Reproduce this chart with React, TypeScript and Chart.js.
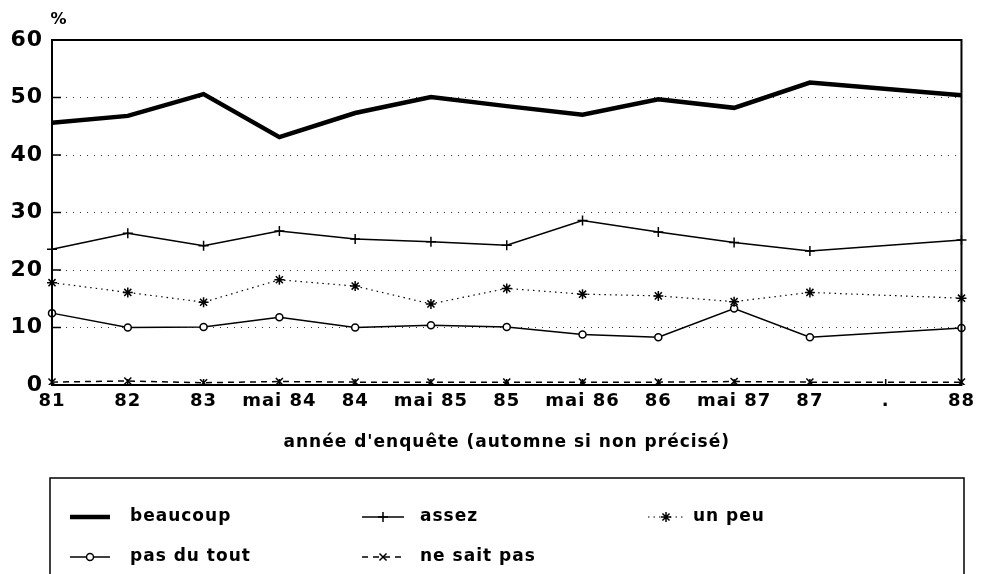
import React, { useEffect, useRef } from "react";
import { Chart, registerables } from "chart.js";

Chart.register(...registerables);

const categories = ["81", "82", "83", "mai 84", "84", "mai 85", "85", "mai 86", "86", "mai 87", "87", ".", "88"];
const beaucoup = [45.6, 46.8, 50.6, 43.1, 47.3, 50.1, 48.5, 47.0, 49.7, 48.2, 52.6, null, 50.4];
const assez = [23.6, 26.4, 24.2, 26.8, 25.4, 24.9, 24.3, 28.6, 26.6, 24.8, 23.3, null, 25.2];
const unPeu = [17.8, 16.1, 14.4, 18.3, 17.2, 14.1, 16.8, 15.8, 15.5, 14.5, 16.1, null, 15.1];
const pasDuTout = [12.5, 10.0, 10.1, 11.8, 10.0, 10.4, 10.1, 8.8, 8.3, 13.3, 8.3, null, 9.9];
const neSaitPas = [0.5, 0.7, 0.4, 0.6, 0.5, 0.5, 0.5, 0.5, 0.5, 0.6, 0.5, null, 0.5];
const yTicks = [0, 10, 20, 30, 40, 50, 60];
const xTitle = "année d'enquête (automne si non précisé)";
const yUnit = "%";
const seriesNames = ["beaucoup", "assez", "un peu", "pas du tout", "ne sait pas"];

const FONT = "'DejaVu Sans', 'Liberation Sans', sans-serif";
const SPACING = "1px";

function drawMarker(ctx: CanvasRenderingContext2D, style: string, x: number, y: number, r: number) {
  ctx.beginPath();
  if (style === "cross" || style === "star") {
    ctx.moveTo(x - r, y); ctx.lineTo(x + r, y);
    ctx.moveTo(x, y - r); ctx.lineTo(x, y + r);
  }
  if (style === "crossRot" || style === "star") {
    const d = r * 0.707;
    ctx.moveTo(x - d, y - d); ctx.lineTo(x + d, y + d);
    ctx.moveTo(x - d, y + d); ctx.lineTo(x + d, y - d);
  }
  ctx.stroke();
  if (style === "circle") {
    ctx.beginPath();
    ctx.arc(x, y, r, 0, Math.PI * 2);
    ctx.fillStyle = "#fff";
    ctx.fill();
    ctx.stroke();
  }
}

const framePlugin = {
  id: "frame",
  beforeUpdate(chart: any) {
    (chart.ctx as any).letterSpacing = SPACING;
  },
  beforeLayout(chart: any) {
    (chart.ctx as any).letterSpacing = SPACING;
  },
  beforeDraw(chart: any) {
    const { ctx, width, height } = chart;
    (ctx as any).letterSpacing = SPACING;
    ctx.save();
    ctx.fillStyle = "#fff";
    ctx.fillRect(0, 0, width, height);
    ctx.restore();
  },
  afterDraw(chart: any) {
    const { ctx, chartArea: a, scales } = chart;
    ctx.save();
    ctx.strokeStyle = "#000";
    ctx.setLineDash([]);
    ctx.lineWidth = 2;
    ctx.strokeRect(a.left, a.top, a.right - a.left, a.bottom - a.top);
    ctx.lineWidth = 1.5;
    yTicks.forEach((v) => {
      if (v === 0 || v === 60) return;
      const y = scales.y.getPixelForValue(v);
      ctx.beginPath();
      ctx.moveTo(a.left, y);
      ctx.lineTo(a.left + 9, y);
      ctx.stroke();
    });
    categories.forEach((_, i) => {
      const x = scales.x.getPixelForValue(i);
      ctx.beginPath();
      ctx.moveTo(x, a.bottom);
      ctx.lineTo(x, a.bottom - 6);
      ctx.stroke();
    });
    // unit label
    ctx.fillStyle = "#000";
    ctx.font = `bold 16px ${FONT}`;
    ctx.textAlign = "center";
    ctx.textBaseline = "middle";
    ctx.fillText(yUnit, a.left + 7, a.top - 20);

    // legend
    const boxL = 50, boxR = 964, boxT = 478;
    ctx.lineWidth = 1.5;
    ctx.beginPath();
    ctx.moveTo(boxL, 600);
    ctx.lineTo(boxL, boxT);
    ctx.lineTo(boxR, boxT);
    ctx.lineTo(boxR, 600);
    ctx.stroke();
    const pos = [
      { x1: 70, x2: 110, tx: 130, y: 517 },
      { x1: 362, x2: 404, tx: 420, y: 517 },
      { x1: 648, x2: 684, tx: 693, y: 517 },
      { x1: 70, x2: 110, tx: 130, y: 557 },
      { x1: 362, x2: 404, tx: 420, y: 557 },
    ];
    chart.data.datasets.forEach((ds: any, i: number) => {
      const p = pos[i];
      ctx.save();
      ctx.strokeStyle = "#000";
      ctx.lineWidth = ds.borderWidth;
      ctx.setLineDash(ds.borderDash || []);
      ctx.beginPath();
      ctx.moveTo(p.x1, p.y);
      ctx.lineTo(p.x2, p.y);
      ctx.stroke();
      ctx.setLineDash([]);
      ctx.lineWidth = 1.5;
      if (ds.pointRadius > 0) drawMarker(ctx, ds.pointStyle, (p.x1 + p.x2) / 2, p.y, ds.pointRadius);
      ctx.restore();
      ctx.fillStyle = "#000";
      ctx.font = `bold 17px ${FONT}`;
      ctx.textAlign = "left";
      ctx.textBaseline = "middle";
      ctx.fillText(ds.label, p.tx, p.y);
    });
    ctx.restore();
  },
};

export default function App() {
  const ref = useRef<HTMLCanvasElement>(null);
  useEffect(() => {
    document.body.style.margin = "0";
    const chart = new Chart(ref.current!, {
      type: "line",
      data: {
        labels: categories,
        datasets: [
          { label: seriesNames[0], data: beaucoup, borderColor: "#000", borderWidth: 4.5, pointRadius: 0, spanGaps: true, borderDash: [] },
          { label: seriesNames[1], data: assez, borderColor: "#000", borderWidth: 1.5, pointStyle: "cross", pointRadius: 5, pointBorderWidth: 1.5, pointBorderColor: "#000", spanGaps: true, borderDash: [] },
          { label: seriesNames[2], data: unPeu, borderColor: "#000", borderWidth: 1.2, borderDash: [1.5, 4], pointStyle: "star", pointRadius: 5, pointBorderWidth: 1.5, pointBorderColor: "#000", spanGaps: true },
          { label: seriesNames[3], data: pasDuTout, borderColor: "#000", borderWidth: 1.5, pointStyle: "circle", pointRadius: 3.5, pointBorderWidth: 1.5, pointBorderColor: "#000", pointBackgroundColor: "#fff", spanGaps: true, borderDash: [] },
          { label: seriesNames[4], data: neSaitPas, borderColor: "#000", borderWidth: 1.5, borderDash: [6, 5], pointStyle: "crossRot", pointRadius: 5, pointBorderWidth: 1.5, pointBorderColor: "#000", spanGaps: true },
        ],
      },
      options: {
        responsive: false,
        animation: false,
        devicePixelRatio: 1,
        layout: { padding: { top: 40, right: 17, bottom: 119, left: 0 } },
        plugins: { legend: { display: false }, tooltip: { enabled: false } },
        scales: {
          x: {
            offset: false,
            grid: { display: false, drawTicks: false },
            border: { display: false },
            ticks: { color: "#000", font: { family: FONT, size: 18, weight: "bold" }, autoSkip: false, maxRotation: 0, padding: 6 },
            title: { display: true, text: xTitle, color: "#000", font: { family: FONT, size: 17, weight: "bold" }, padding: { top: 0, bottom: 2 } },
            afterFit: (s: any) => { s.height = 70; },
          },
          y: {
            min: 0,
            max: 60,
            afterBuildTicks: (s: any) => { s.ticks = yTicks.map((v) => ({ value: v })); },
            grid: {
              drawTicks: false,
              color: (c: any) => (c.tick && (c.tick.value === 0 || c.tick.value === 60) ? "rgba(0,0,0,0)" : "#333"),
              lineWidth: 1,
            },
            border: { display: false, dash: [1, 6] },
            ticks: { color: "#000", font: { family: FONT, size: 22, weight: "bold" }, padding: 9 },
            afterFit: (s: any) => { s.width = 52; },
          },
        },
      },
      plugins: [framePlugin],
    } as any);
    return () => chart.destroy();
  }, []);
  return (
    <div style={{ position: "absolute", left: 0, top: 0, width: 981, height: 574 }}>
      <canvas ref={ref} width={981} height={574} style={{ width: 981, height: 574, display: "block" }} />
    </div>
  );
}
